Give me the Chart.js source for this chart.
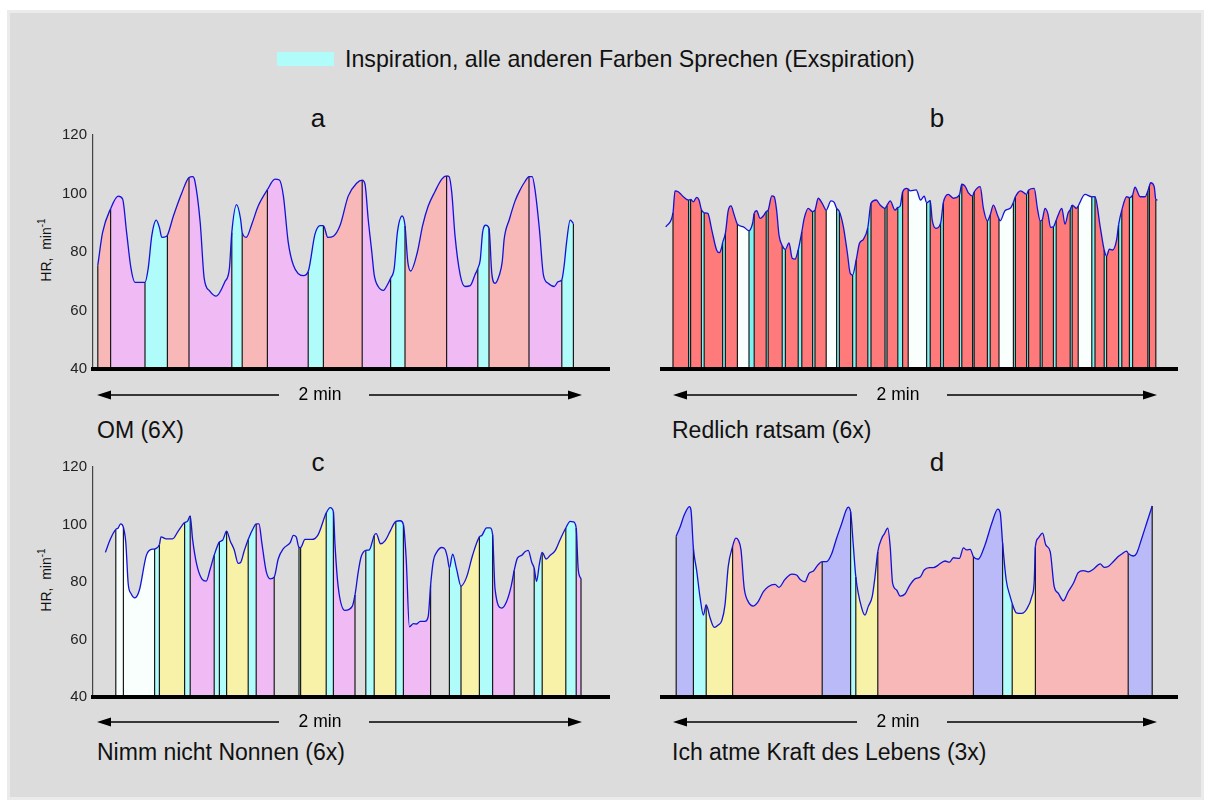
<!DOCTYPE html>
<html>
<head>
<meta charset="utf-8">
<script src="https://cdn.jsdelivr.net/npm/chart.js@4.4.1/dist/chart.umd.min.js"></script>
<style>
  body { margin: 0; background: #fff; width: 1211px; height: 807px; position: relative; overflow: hidden;
         font-family: "Liberation Sans", Arial, sans-serif; color: #111; }
  #frame { position: absolute; left: 7px; top: 10px; width: 1197px; height: 790px; box-sizing: border-box;
           background: #dcdcdc; border: 3px solid #ebebeb; }
  .panel { position: absolute; }
  .txt { position: absolute; white-space: nowrap; line-height: 1; }
  .ttl { font-size: 26px; transform: translate(-50%, -50%); }
  .cap { font-size: 23px; transform: translateY(-50%); }
  .leg { font-size: 23.2px; transform: translateY(-50%); }
  .ytitle { font-size: 14px; transform: translate(-50%, -50%) rotate(-90deg); }
  .ytitle sup { font-size: 10px; }
</style>
</head>
<body>
<div id="frame"></div>

<div class="txt" style="left:277px;top:52px;width:57px;height:14px;background:#b0fcfa"></div>
<div class="txt leg" style="left:345px;top:60px">Inspiration, alle anderen Farben Sprechen (Exspiration)</div>

<div class="txt ttl" style="left:318px;top:118px">a</div>
<div class="txt ttl" style="left:937px;top:118px">b</div>
<div class="txt ttl" style="left:318px;top:462px">c</div>
<div class="txt ttl" style="left:937px;top:462px">d</div>

<div class="txt ytitle" style="left:45px;top:250px">HR,&nbsp; min<sup>-1</sup></div>
<div class="txt ytitle" style="left:45px;top:580px">HR,&nbsp; min<sup>-1</sup></div>

<div class="panel" style="left:50px;top:120px"><canvas id="chartA" width="560" height="290"></canvas></div>
<div class="panel" style="left:660px;top:120px"><canvas id="chartB" width="518" height="290"></canvas></div>
<div class="panel" style="left:50px;top:452px"><canvas id="chartC" width="560" height="286"></canvas></div>
<div class="panel" style="left:660px;top:452px"><canvas id="chartD" width="518" height="286"></canvas></div>

<div class="txt cap" style="left:97px;top:430px">OM (6X)</div>
<div class="txt cap" style="left:672px;top:430px">Redlich ratsam (6x)</div>
<div class="txt cap" style="left:97px;top:752px">Nimm nicht Nonnen (6x)</div>
<div class="txt cap" style="left:672px;top:752px">Ich atme Kraft des Lebens (3x)</div>

<script>
// heart rate traces, time in s, HR in min-1
const hrMin = 40, hrMax = 120, hrStep = 20;

// a: OM (6X)
const aTime = [0.2, 1.4, 3.4, 5.3, 6.4, 7.4, 8.5, 9.5, 12, 12.8,
  13.7, 14.8, 15.6, 16.2, 17.3, 17.6, 19.1, 21.2, 23, 23.9,
  24.5, 25.8, 26.8, 28.1, 29.8, 32, 33.1, 33.7, 34.9, 35.9,
  36.3, 37.3, 38.7, 40.3, 42.6, 44.5, 45.6, 46.6, 47.8, 49.1,
  51.6, 52.8, 54.5, 55.8, 56.6, 57.7, 59.1, 60.8, 62.8, 64.9,
  66.3, 67, 67.8, 68.7, 69.3, 70.3, 71.6, 72.6, 73.4, 74.3,
  75.1, 76.3, 77, 77.7, 78.4, 80.1, 81.4, 82.8, 84.5, 86.2,
  87.4, 88, 88.7, 89.5, 90.8, 92, 93.3, 94.5, 95.2, 95.8,
  96.4, 97.2, 98, 98.7, 99.5, 100.6, 101.3, 101.8, 103.1, 104.5,
  105.8, 107, 108, 108.8, 109.5, 110.6, 111.6, 112.8, 114.3, 115.3,
  116.2, 116.8, 117.4, 118.3, 119.1];
const aHR = [75.5, 86.7, 94.8, 99.1, 98.1, 86.7, 74.4, 69.6, 69.6, 74.4,
  85.6, 90.9, 88.4, 85.0, 85.3, 85.7, 92.3, 100.2, 105.5, 105.8,
  104.1, 90.1, 71.0, 66.8, 64.9, 69.9, 74.4, 86.7, 96.2, 91.2,
  86.7, 85.0, 89.5, 95.7, 101.3, 104.9, 104.6, 99.1, 83.4, 75.5,
  71.9, 73.3, 86.1, 89.0, 89.0, 85.0, 85.4, 89.2, 99.1, 103.5,
  104.6, 103.2, 91.2, 80.0, 72.2, 68.2, 66.9, 68.8, 71.0, 74.4,
  86.7, 92.3, 89.0, 76.6, 73.5, 80.0, 89.0, 95.7, 100.7, 104.9,
  106.0, 105.8, 100.2, 85.6, 72.2, 68.2, 68.5, 72.2, 74.4, 77.2,
  86.7, 89.2, 88.1, 72.7, 69.3, 72.2, 76.6, 84.5, 91.2, 97.4,
  101.3, 104.1, 105.8, 105.8, 101.3, 87.8, 72.2, 69.3, 68.2, 69.9,
  70.5, 75.5, 83.4, 90.9, 89.7];
const aBounds = [0.2, 3.4, 12, 17.6, 23, 33.7, 36.3, 42.6, 52.8, 56.6, 66.3, 73.4, 77, 87.4, 95.2, 98, 108, 116.2, 119.1];
const aFill = ['P', 'V', 'C', 'P', 'V', 'C', 'P', 'V', 'C', 'P', 'V', 'C', 'P', 'V', 'C', 'P', 'V', 'C'];

// b: Redlich ratsam (6x)
const bTime = [-1.8, 0, 0.5, 1.3, 2.6, 3.9, 4.4, 5.1, 5.9, 6.5,
  7.1, 7.8, 8.7, 9.7, 10.9, 11.6, 12.2, 12.4, 13.1, 13.8,
  14.5, 15.3, 16.1, 17.6, 19, 19.9, 20.3, 20.9, 21.8, 22.6,
  23.3, 23.8, 24.7, 25.3, 25.9, 26.5, 27.3, 28.1, 29, 29.8,
  30.5, 31.3, 32.2, 32.8, 33.8, 34.9, 35.5, 36.3, 37.3, 38.3,
  39.5, 40.3, 40.9, 41.6, 42.6, 43.6, 44.3, 44.9, 45.8, 46.6,
  47.6, 48.7, 49.5, 50.8, 51.8, 53, 53.5, 54.3, 55.5, 56.2,
  56.8, 57.4, 58.4, 58.8, 59.3, 60.8, 61.9, 62.8, 63.4, 64.3,
  64.8, 65.7, 66.9, 67.6, 68.8, 70.1, 71.6, 72.2, 73, 73.8,
  74.9, 75.3, 76.8, 77.6, 78.6, 79.3, 80.1, 81.1, 81.5, 81.8,
  83, 84.3, 85.1, 85.6, 86.9, 88.4, 88.9, 90.3, 91.1, 91.8,
  92.3, 93, 93.7, 94.4, 95.1, 95.8, 96.3, 97.2, 98, 98.8,
  99.3, 99.8, 100.9, 101.3, 103, 104.7, 105.5, 106.8, 107.8, 108.4,
  109.1, 109.9, 110.9, 111.4, 112.2, 113.4, 114.1, 114.9, 115.5, 116.8,
  118, 118.7, 119.1, 119.4, 120.3, 120.7, 121.1];
const bHR = [87.8, 92.5, 99.9, 99.6, 97.9, 96.8, 97.0, 96.2, 97.7, 96.8,
  93.6, 92.5, 92.3, 86.7, 80.0, 79.1, 81.1, 82.5, 85.6, 93.2,
  94.8, 91.8, 88.7, 87.8, 86.5, 89.0, 92.3, 93.2, 90.6, 91.5,
  92.9, 93.4, 98.2, 97.9, 93.4, 85.0, 81.5, 80.2, 82.4, 77.2,
  76.9, 80.0, 86.1, 90.6, 94.0, 92.9, 93.4, 97.4, 95.7, 93.4,
  96.5, 96.0, 94.0, 92.9, 87.8, 78.9, 72.2, 71.6, 76.6, 82.2,
  83.6, 87.5, 95.7, 96.8, 95.1, 94.0, 95.0, 96.5, 93.4, 94.3,
  94.8, 99.5, 100.7, 100.5, 99.9, 100.2, 96.8, 98.1, 95.9, 96.6,
  90.1, 87.3, 89.0, 96.0, 98.7, 97.4, 98.5, 102.1, 101.5, 99.3,
  98.2, 99.5, 101.3, 94.0, 89.8, 91.8, 95.1, 91.8, 90.5, 89.8,
  93.2, 94.0, 96.0, 97.9, 99.9, 98.7, 100.2, 100.7, 94.0, 89.8,
  90.1, 94.0, 92.3, 87.6, 87.8, 90.0, 91.8, 94.0, 88.7, 92.5,
  93.5, 95.1, 94.0, 94.8, 98.7, 97.9, 97.9, 87.8, 80.0, 78.0,
  80.3, 80.0, 83.4, 88.5, 93.4, 97.9, 97.6, 98.5, 101.1, 97.9,
  97.9, 99.8, 101.5, 102.6, 101.3, 97.0, 96.8];
const bBounds = [0, 3.9, 4.4, 7.1, 7.8, 12.4, 13.1, 16.1, 19, 20.3, 23.3, 23.8, 27.3, 28.1, 31.3, 32.2,
  34.9, 35.5, 38.3, 40.9, 41.6, 44.9, 45.8, 48.7, 49.5, 53, 53.5, 56.2, 57.4, 58.8, 63.4, 64.3,
  66.9, 67.6, 71.6, 72.2, 74.9, 75.3, 78.6, 79.3, 81.5, 85.1, 85.6, 88.4, 88.9, 91.8, 92.3, 95.1,
  95.8, 99.3, 99.8, 101.3, 104.7, 105.5, 107.8, 108.4, 111.4, 112.2, 114.1, 114.9, 118.7, 119.1, 120.7];
const bFill = ['R', 'T', 'R', 'T', 'R', 'T', 'R', 'W', 'T', 'R', 'T', 'R', 'T', 'R', 'T', 'R',
  'T', 'R', 'W', 'T', 'R', 'T', 'R', 'T', 'R', 'T', 'R', 'T', 'R', 'W', 'T', 'R',
  'T', 'R', 'T', 'R', 'T', 'R', 'T', 'R', 'W', 'T', 'R', 'T', 'R', 'T', 'R', 'T',
  'R', 'T', 'R', 'W', 'T', 'R', 'T', 'R', 'T', 'R', 'T', 'R', 'T', 'R'];

// c: Nimm nicht Nonnen (6x)
const cTime = [2.1, 3.3, 4.7, 5.3, 5.9, 6.6, 7.2, 7.8, 8.5, 9.5,
  10.6, 12.3, 13.3, 14.4, 15.6, 16, 17.3, 18.9, 20.3, 21.9,
  22.6, 23.3, 23.9, 24.9, 26.2, 27.3, 28.3, 29.3, 30.6, 31.4,
  32.4, 33.3, 34.3, 35.3, 35.9, 36.8, 37.8, 39.1, 39.8, 40.5,
  41.2, 42.3, 43.3, 44.3, 45.3, 46.6, 48.3, 49.1, 49.8, 50.5,
  50.9, 52, 53.7, 55.3, 57.3, 58.3, 59.1, 59.5, 60.3, 62,
  63.8, 64.5, 65.3, 66, 67.2, 68.1, 69.3, 69.8, 70.9, 72,
  73.3, 74.7, 75.8, 76.6, 77.3, 78.1, 79.1, 79.9, 80.8, 82,
  82.8, 83.4, 84.1, 84.9, 86.2, 87, 87.6, 88.1, 88.9, 89.9,
  91, 92.4, 93.9, 95.6, 96.2, 97.4, 98.3, 98.9, 99.5, 101.2,
  102.4, 103.5, 104.3, 105.1, 106.2, 107, 107.8, 108.7, 109.3, 109.9,
  110.6, 111.3, 112.3, 113.3, 114.5, 115.8, 117.2, 118.3, 119.1, 119.8,
  120.3, 121];
const cHR = [90.3, 94.8, 98.3, 98.8, 100.2, 99.0, 93.7, 79.4, 76.0, 74.5,
  77.2, 89.1, 91.2, 91.5, 93.0, 95.7, 95.0, 95.0, 97.7, 100.7,
  101.1, 103.0, 94.8, 86.3, 81.1, 80.3, 84.5, 89.3, 93.9, 94.5,
  97.7, 94.3, 91.2, 86.5, 86.8, 90.8, 94.8, 98.8, 100.2, 100.2,
  93.7, 83.7, 81.1, 81.7, 88.0, 91.6, 93.7, 96.2, 95.7, 92.0,
  92.0, 94.8, 94.8, 96.5, 104.0, 105.9, 104.5, 93.0, 78.3, 70.1,
  71.5, 75.5, 83.4, 88.6, 91.0, 91.2, 96.2, 96.8, 93.3, 94.3,
  97.7, 101.1, 101.3, 100.0, 88.0, 64.4, 65.5, 65.4, 66.3, 66.3,
  68.0, 78.9, 87.4, 90.3, 92.0, 91.4, 88.6, 84.8, 89.7, 84.5,
  78.6, 81.7, 89.3, 95.7, 96.2, 98.8, 98.8, 96.5, 77.7, 70.9,
  73.2, 78.3, 84.0, 88.3, 89.3, 90.5, 91.0, 86.8, 84.8, 80.2,
  86.3, 90.3, 88.0, 89.3, 90.8, 94.8, 98.8, 101.1, 100.9, 98.8,
  84.5, 81.1];
const cBounds = [4.7, 6.6, 14.4, 15.6, 21.9, 23.3, 29.3, 30.6, 32.4, 37.8, 39.8, 44.3, 50.5, 50.9, 57.3, 59.1,
  64.5, 67.2, 69.3, 74.7, 76.6, 83.4, 88.1, 91, 95.6, 98.9, 104.3, 109.3, 111.3, 117.2, 119.8, 121];
const cFill = ['W', 'W', 'C', 'Y', 'C', 'V', 'C', 'C', 'Y', 'C', 'V', 'N', 'C', 'Y', 'C', 'V',
  'N', 'C', 'Y', 'C', 'V', 'N', 'C', 'Y', 'C', 'V', 'N', 'C', 'Y', 'C', 'V'];

// d: Ich atme Kraft des Lebens (3x)
const dTime = [0.8, 1.8, 2.8, 4.1, 4.5, 5.1, 5.9, 6.8, 7.6, 8.3,
  9.3, 10.3, 11.3, 12.2, 13, 13.8, 14.9, 15.7, 16.3, 17,
  17.8, 18.8, 20.1, 21.3, 22.6, 23.8, 25.5, 26.5, 28, 29.7,
  30.9, 31.8, 33, 34, 35.1, 36.2, 37.3, 38.4, 39.7, 40.9,
  42.2, 43.3, 43.8, 44.4, 45.1, 45.7, 47.2, 48, 48.8, 49.8,
  50.5, 51.2, 52.2, 52.8, 53.7, 54.3, 54.9, 55.9, 56.8, 58,
  59.1, 60.5, 61.8, 62.8, 64.1, 65.1, 66.3, 68, 69.1, 70.1,
  71.6, 72.6, 73.4, 74.3, 75.1, 76.3, 78, 79.7, 81.2, 81.8,
  82.4, 83.3, 84.3, 84.8, 85.8, 87.2, 88.4, 89.7, 90.3, 90.6,
  91.3, 92.4, 93.2, 94.3, 95.3, 96.3, 97.6, 98.8, 100.1, 101.3,
  102.6, 103.8, 105.1, 106.8, 107.8, 108.8, 110.1, 111.3, 112.4, 113.4,
  113.8, 115.1, 115.9, 117.2, 118.4, 119.8];
const dHR = [95.0, 98.2, 102.2, 105.1, 103.9, 90.8, 83.4, 73.7, 68.0, 71.5,
  66.9, 63.8, 64.6, 66.1, 71.5, 84.5, 91.5, 94.3, 93.7, 90.3,
  77.2, 72.6, 71.1, 72.6, 76.0, 77.7, 78.5, 77.5, 80.2, 82.0,
  81.7, 80.2, 79.4, 82.3, 83.1, 85.1, 86.3, 86.3, 89.1, 94.3,
  99.4, 103.9, 104.9, 103.4, 91.4, 81.1, 70.3, 68.0, 70.9, 74.3,
  81.1, 89.7, 94.3, 95.7, 97.7, 91.4, 78.9, 76.6, 74.5, 75.2,
  78.0, 80.4, 81.0, 83.4, 84.2, 84.2, 85.1, 86.5, 86.1, 87.6,
  87.4, 91.0, 90.3, 90.5, 88.0, 87.1, 92.0, 99.4, 104.2, 103.0,
  92.6, 80.0, 74.3, 72.0, 68.8, 68.6, 70.0, 74.3, 79.4, 91.4,
  94.3, 96.0, 92.0, 89.7, 77.7, 75.5, 72.9, 76.0, 78.9, 82.5,
  83.2, 82.8, 83.7, 85.5, 84.3, 84.6, 86.3, 88.0, 89.1, 89.9,
  89.1, 88.2, 89.1, 94.3, 99.4, 105.3];
const dBounds = [0.8, 5.1, 8.3, 14.9, 37.3, 44.4, 45.7, 51.2, 75.1, 82.4, 84.8, 90.6, 113.8, 119.8];
const dFill = ['L', 'C', 'Y', 'P', 'L', 'C', 'Y', 'P', 'L', 'C', 'Y', 'P', 'L'];

const fillColors = {
  P: '#f9b8b8', V: '#f0bbf5', C: '#b0fcfa', Y: '#f7f2a8', L: '#babaf8',
  R: '#ff7b7b', T: '#7ef3f3', W: '#f8fffc', N: 'rgba(0,0,0,0)'
};

const fontFam = '"Liberation Sans", Arial, sans-serif';

// the "<— 2 min —>" bar under each panel
const spanArrow = {
  id: 'spanArrow',
  afterDraw(chart, args, o) {
    const { ctx, chartArea } = chart;
    const xs = chart.scales.x;
    const y = chartArea.bottom + o.offset;
    const x0 = xs.getPixelForValue(o.from);
    const x1 = xs.getPixelForValue(o.to);
    const xm = xs.getPixelForValue(o.mid);
    ctx.save();
    ctx.strokeStyle = '#000';
    ctx.fillStyle = '#000';
    ctx.lineWidth = 1.6;
    ctx.beginPath();
    ctx.moveTo(x0 + 10, y); ctx.lineTo(xm - 41, y);
    ctx.moveTo(xm + 49, y); ctx.lineTo(x1 - 10, y);
    ctx.stroke();
    ctx.beginPath();
    ctx.moveTo(x0, y); ctx.lineTo(x0 + 14, y - 4.5); ctx.lineTo(x0 + 14, y + 4.5); ctx.closePath();
    ctx.moveTo(x1, y); ctx.lineTo(x1 - 14, y - 4.5); ctx.lineTo(x1 - 14, y + 4.5); ctx.closePath();
    ctx.fill();
    ctx.font = '17.5px ' + fontFam;
    ctx.textAlign = 'center';
    ctx.textBaseline = 'middle';
    ctx.fillText(o.text, xm, y);
    ctx.restore();
  }
};

function nearestIndex(times, t) {
  let best = 0;
  times.forEach((v, i) => { if (Math.abs(v - t) < Math.abs(times[best] - t)) best = i; });
  return best;
}

function makeChart(id, times, hr, bounds, fills, o) {
  const pts = times.map((t, i) => ({ x: t, y: hr[i] }));
  const dividers = [];
  bounds.forEach(t => {
    const v = hr[nearestIndex(times, t)];
    dividers.push({ x: t, y: hrMin }, { x: t, y: v }, { x: t, y: null });
  });
  const segFill = ctx => {
    const m = (times[ctx.p0DataIndex] + times[ctx.p1DataIndex]) / 2;
    for (let i = 0; i < fills.length; i++) {
      if (m > bounds[i] && m < bounds[i + 1]) return fillColors[fills[i]];
    }
    return fillColors.N;
  };

  return new Chart(document.getElementById(id), {
    type: 'line',
    data: {
      datasets: [{
        data: pts,
        borderColor: '#1212d8',
        borderWidth: 1.3,
        backgroundColor: fillColors.N,
        fill: 'start',
        cubicInterpolationMode: 'monotone',
        pointRadius: 0,
        segment: { backgroundColor: segFill },
        order: 1
      }, {
        data: dividers,
        borderColor: '#1a1a1a',
        borderWidth: 1.2,
        fill: false,
        spanGaps: false,
        pointRadius: 0,
        order: 2
      }]
    },
    options: {
      responsive: false,
      animation: false,
      devicePixelRatio: 1,
      layout: { padding: { top: 11, bottom: 41, left: 0, right: 0 } },
      plugins: {
        legend: { display: false },
        tooltip: { enabled: false },
        filler: { drawTime: 'beforeDatasetsDraw' },
        spanArrow: { from: 0, to: o.arrowTo, mid: o.mid, offset: o.offset, text: '2 min' }
      },
      scales: {
        x: {
          type: 'linear',
          min: o.xMin,
          max: o.xMax,
          z: 1,
          grid: { display: false, drawTicks: false },
          ticks: { display: false },
          border: { display: true, color: '#000', width: 4, z: 1 },
          afterFit: s => { s.height = 0; }
        },
        y: {
          display: o.showY,
          min: hrMin,
          max: hrMax,
          grid: { display: false, drawTicks: false },
          border: { color: '#444', width: 1.2 },
          ticks: { stepSize: hrStep, color: '#222', padding: 6, font: { family: fontFam, size: 15 } },
          afterFit: s => { s.width = o.showY ? 43 : 0; }
        }
      }
    },
    plugins: [spanArrow]
  });
}

makeChart('chartA', aTime, aHR, aBounds, aFill, { xMin: -1, xMax: 128.25, showY: true, arrowTo: 121.25, mid: 55.75, offset: 26 });
makeChart('chartB', bTime, bHR, bBounds, bFill, { xMin: -3.25, xMax: 126.25, showY: false, arrowTo: 121, mid: 56.25, offset: 26 });
makeChart('chartC', cTime, cHR, cBounds, cFill, { xMin: -1, xMax: 128.25, showY: true, arrowTo: 121.25, mid: 55.75, offset: 25 });
makeChart('chartD', dTime, dHR, dBounds, dFill, { xMin: -3.25, xMax: 126.25, showY: false, arrowTo: 121, mid: 56.25, offset: 25 });
</script>
</body>
</html>
